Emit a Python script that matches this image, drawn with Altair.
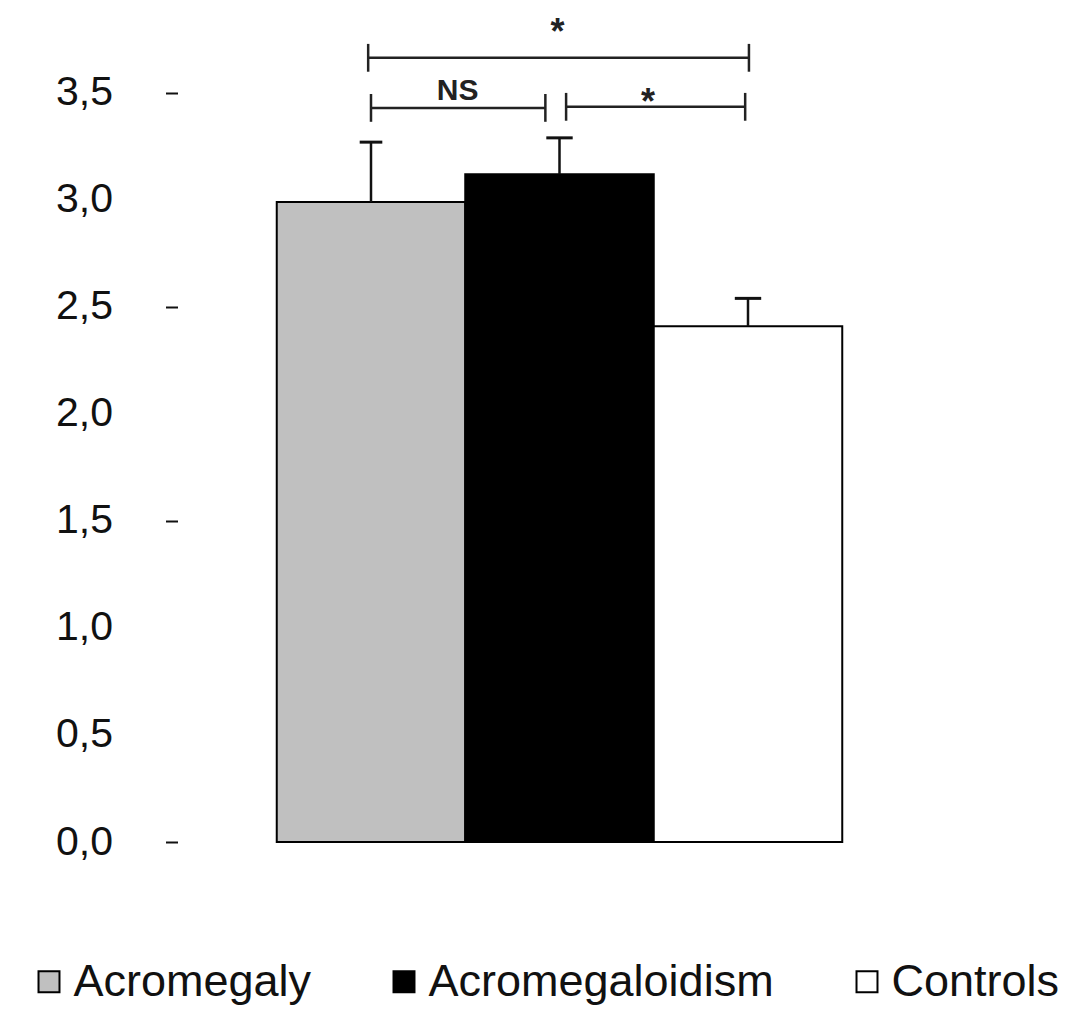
import altair as alt
import pandas as pd

# ---- data ----
groups = ["Acromegaly", "Acromegaloidism", "Controls"]
positions = [0, 1, 2]
means = [2.99, 3.12, 2.41]
upper = [3.27, 3.29, 2.54]
fills = ["#c0c0c0", "#000000", "#ffffff"]
cap_half = [0.06, 0.07, 0.07]

# significance brackets: x start, x end, y level
br_x1 = [-0.015, 0.0, 1.035]
br_x2 = [2.005, 0.925, 1.985]
br_y = [3.664, 3.43, 3.435]
br_half = 0.065

# annotation texts
ann_text = ["*", "NS", "*"]
ann_x = [0.99, 0.46, 1.47]
ann_y = [3.73, 3.465, 3.40]
ann_size = [36, 30, 36]

y_ticks = [0, 0.5, 1.0, 1.5, 2.0, 2.5, 3.0, 3.5]

# ---- tables ----
bars = pd.DataFrame({
    "group": groups,
    "x_lo": [p - 0.5 for p in positions],
    "x_hi": [p + 0.5 for p in positions],
    "mean": means,
    "zero": [0.0] * 3,
})
errs = pd.DataFrame({
    "x": positions,
    "mean": means,
    "upper": upper,
    "c_lo": [p - h for p, h in zip(positions, cap_half)],
    "c_hi": [p + h for p, h in zip(positions, cap_half)],
})
brh = pd.DataFrame({"x1": br_x1, "x2": br_x2, "y": br_y})
ends_x = br_x1 + br_x2
ends_y = br_y + br_y
brv = pd.DataFrame({
    "x": ends_x,
    "y_lo": [v - br_half for v in ends_y],
    "y_hi": [v + br_half for v in ends_y],
})
ann = pd.DataFrame({"t": ann_text, "x": ann_x, "y": ann_y, "fs": ann_size})

xs = alt.Scale(domain=[-1, 3], nice=False, zero=False)
ys = alt.Scale(domain=[0, 3.85], nice=False, zero=True)

tick_test = "datum.value == 3.5 || datum.value == 2.5 || datum.value == 1.5 || datum.value == 0"

bar_layer = alt.Chart(bars).mark_bar(stroke="black", strokeWidth=2, opacity=1).encode(
    x=alt.X("x_lo:Q", scale=xs, axis=None),
    x2="x_hi:Q",
    y=alt.Y(
        "mean:Q",
        scale=ys,
        title=None,
        axis=alt.Axis(
            values=y_ticks,
            labelExpr="replace(format(datum.value, '.1f'), '.', ',')",
            domain=False,
            grid=False,
            ticks=True,
            tickSize=12,
            tickWidth=2,
            tickColor="#111",
            tickOpacity={"condition": {"test": tick_test, "value": 1}, "value": 0},
            offset=5,
            labelPadding=53,
            labelFont="Liberation Sans",
            labelFontSize=41,
            labelColor="#111",
        ),
    ),
    y2="zero:Q",
    fill=alt.Fill(
        "group:N",
        scale=alt.Scale(domain=groups, range=fills),
        legend=alt.Legend(
            title=None,
            orient="none",
            legendX=-156,
            legendY=941,
            direction="horizontal",
            columns=3,
            columnPadding=70,
            symbolType="square",
            symbolSize=440,
            symbolStrokeColor="black",
            symbolStrokeWidth=2,
            symbolOpacity=1,
            labelFont="Liberation Sans",
            labelFontSize=45,
            labelColor="#111",
            labelOffset=2,
            labelLimit=600,
        ),
    ),
)

err_line = alt.Chart(errs).mark_rule(color="#111", strokeWidth=2.5).encode(
    x=alt.X("x:Q", scale=xs), y=alt.Y("mean:Q", scale=ys), y2="upper:Q"
)
err_cap = alt.Chart(errs).mark_rule(color="#111", strokeWidth=3).encode(
    x=alt.X("c_lo:Q", scale=xs), x2="c_hi:Q", y=alt.Y("upper:Q", scale=ys)
)
br_h = alt.Chart(brh).mark_rule(color="#222", strokeWidth=2.5).encode(
    x=alt.X("x1:Q", scale=xs), x2="x2:Q", y=alt.Y("y:Q", scale=ys)
)
br_v = alt.Chart(brv).mark_rule(color="#222", strokeWidth=2.5).encode(
    x=alt.X("x:Q", scale=xs), y=alt.Y("y_lo:Q", scale=ys), y2="y_hi:Q"
)
txt = alt.Chart(ann).mark_text(
    font="Liberation Sans", fontWeight="bold", baseline="alphabetic", align="center", color="#222"
).encode(
    x=alt.X("x:Q", scale=xs),
    y=alt.Y("y:Q", scale=ys),
    text="t:N",
    size=alt.Size("fs:Q", scale=None, legend=None),
)

chart = (
    alt.layer(bar_layer, err_line, err_cap, br_h, br_v, txt)
    .properties(
        width=754,
        height=824,
        background="white",
        autosize=alt.AutoSizeParams(type="none"),
        padding={"left": 174.5, "top": 10, "right": 140, "bottom": 168},
    )
    .configure_view(stroke=None, strokeWidth=0)
)

chart.save("out.html", embed_options={"renderer": "svg", "actions": False})
